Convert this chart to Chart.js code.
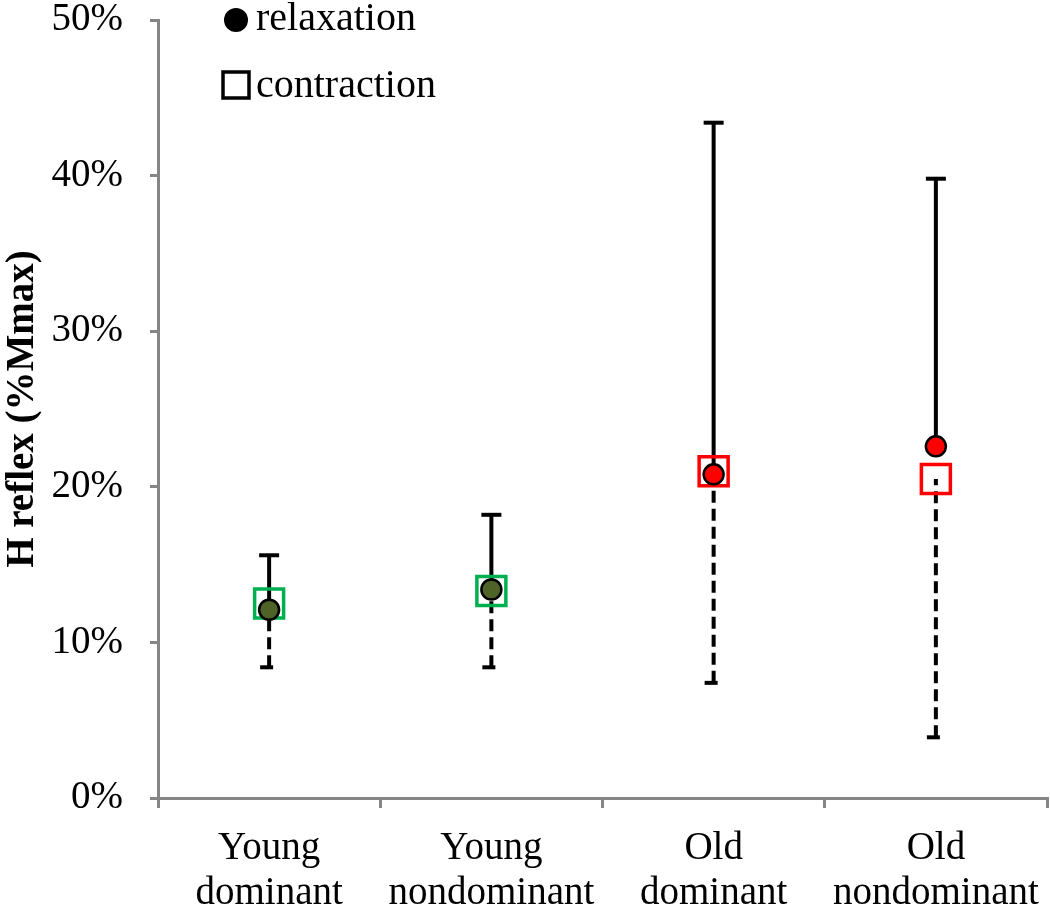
<!DOCTYPE html>
<html><head><meta charset="utf-8">
<script src="https://cdn.jsdelivr.net/npm/chart.js@4"></script>
<style>html,body{margin:0;padding:0;background:#fff;overflow:hidden;}</style>
</head><body>
<canvas id="c" width="1050" height="909" style="display:block;width:1050px;height:909px"></canvas>
<script>
const categories = [['Young','dominant'],['Young','nondominant'],['Old','dominant'],['Old','nondominant']];
const relaxation = [12.1, 13.4, 20.8, 22.6];
const contraction = [12.5, 13.3, 21.0, 20.5];
const relaxationUpper = [15.6, 18.2, 43.4, 39.8];
const contractionLower = [8.4, 8.4, 7.4, 3.9];
const relaxationColors = ['#4F6228','#4F6228','#FF0000','#FF0000'];
const contractionColors = ['#00B050','#00B050','#FF0000','#FF0000'];
const yMin = 0, yMax = 50, yStep = 10;
const legendLabels = ['relaxation','contraction'];
const yTitle = 'H reflex (%Mmax)';

const FONT = '"Liberation Serif", "Times New Roman", serif';
const GREY = '#868686';

const errorBars = {
  id: 'errorBars',
  beforeDatasetsDraw(chart) {
    const ctx = chart.ctx, xs = chart.scales.x, ys = chart.scales.y;
    ctx.save();
    ctx.strokeStyle = '#000';
    ctx.lineWidth = 4;
    ctx.lineCap = 'butt';
    for (let i = 0; i < categories.length; i++) {
      const x = xs.getPixelForValue(i);
      const y0 = ys.getPixelForValue(relaxation[i]);
      const y1 = ys.getPixelForValue(relaxationUpper[i]);
      ctx.setLineDash([]);
      ctx.beginPath(); ctx.moveTo(x, y0); ctx.lineTo(x, y1); ctx.stroke();
      ctx.beginPath(); ctx.moveTo(x - 10, y1); ctx.lineTo(x + 10, y1); ctx.stroke();
      const c0 = ys.getPixelForValue(contraction[i]);
      const c1 = ys.getPixelForValue(contractionLower[i]);
      ctx.setLineDash([12, 6]);
      ctx.beginPath(); ctx.moveTo(x, c1); ctx.lineTo(x, c0); ctx.stroke();
      ctx.setLineDash([]);
      ctx.beginPath(); ctx.moveTo(x - 9, c1); ctx.lineTo(x + 4, c1); ctx.stroke();
    }
    ctx.restore();
  }
};

const customLegend = {
  id: 'customLegend',
  afterDraw(chart) {
    const ctx = chart.ctx;
    ctx.save();
    ctx.fillStyle = '#000';
    ctx.beginPath(); ctx.arc(236, 20, 12, 0, Math.PI * 2); ctx.fill();
    ctx.strokeStyle = '#000'; ctx.lineWidth = 3.5;
    ctx.strokeRect(223, 72, 26, 26);
    ctx.fillStyle = '#000';
    ctx.font = '40px ' + FONT;
    ctx.textBaseline = 'alphabetic';
    ctx.textAlign = 'left';
    ctx.fillText(legendLabels[0], 256, 30);
    ctx.fillText(legendLabels[1], 256, 97);
    ctx.restore();
  }
};

new Chart(document.getElementById('c'), {
  type: 'line',
  data: {
    labels: categories,
    datasets: [
      {
        label: legendLabels[0],
        data: relaxation,
        showLine: false,
        pointStyle: 'circle',
        pointRadius: 10,
        pointHoverRadius: 10,
        pointBackgroundColor: relaxationColors,
        pointBorderColor: '#000',
        pointBorderWidth: 2.5
      },
      {
        label: legendLabels[1],
        data: contraction,
        showLine: false,
        pointStyle: 'rect',
        pointRadius: 20.5,
        pointHoverRadius: 20.5,
        pointBackgroundColor: 'rgba(0,0,0,0)',
        pointBorderColor: contractionColors,
        pointBorderWidth: 3.5
      }
    ]
  },
  options: {
    responsive: false,
    animation: false,
    devicePixelRatio: 1,
    layout: { autoPadding: false, padding: { top: 20, right: 3, left: 0, bottom: 0 } },
    plugins: { legend: { display: false }, tooltip: { enabled: false } },
    scales: {
      x: {
        type: 'category',
        offset: true,
        grid: { offset: true, drawOnChartArea: false, drawTicks: true, tickLength: 10, color: GREY, lineWidth: 3 },
        border: { display: true, color: GREY, width: 3 },
        ticks: { color: '#000', font: { family: FONT, size: 39, lineHeight: 1.15 }, padding: 18, maxRotation: 0, autoSkip: false },
        afterFit(s) { s.height = 111; s.paddingLeft = 0; s.paddingRight = 0; }
      },
      y: {
        min: yMin, max: yMax,
        grid: { drawOnChartArea: false, drawTicks: true, tickLength: 8, color: GREY, lineWidth: 3 },
        border: { display: true, color: GREY, width: 3 },
        ticks: { stepSize: yStep, color: '#000', font: { family: FONT, size: 39 }, padding: 27, callback: v => v + '%' },
        title: { display: true, text: yTitle, color: '#000', font: { family: FONT, size: 39, weight: 'bold' }, padding: 0 },
        afterFit(s) { s.width = 158; s.paddingTop = 0; s.paddingBottom = 0; }
      }
    }
  },
  plugins: [errorBars, customLegend]
});
</script>
</body></html>
